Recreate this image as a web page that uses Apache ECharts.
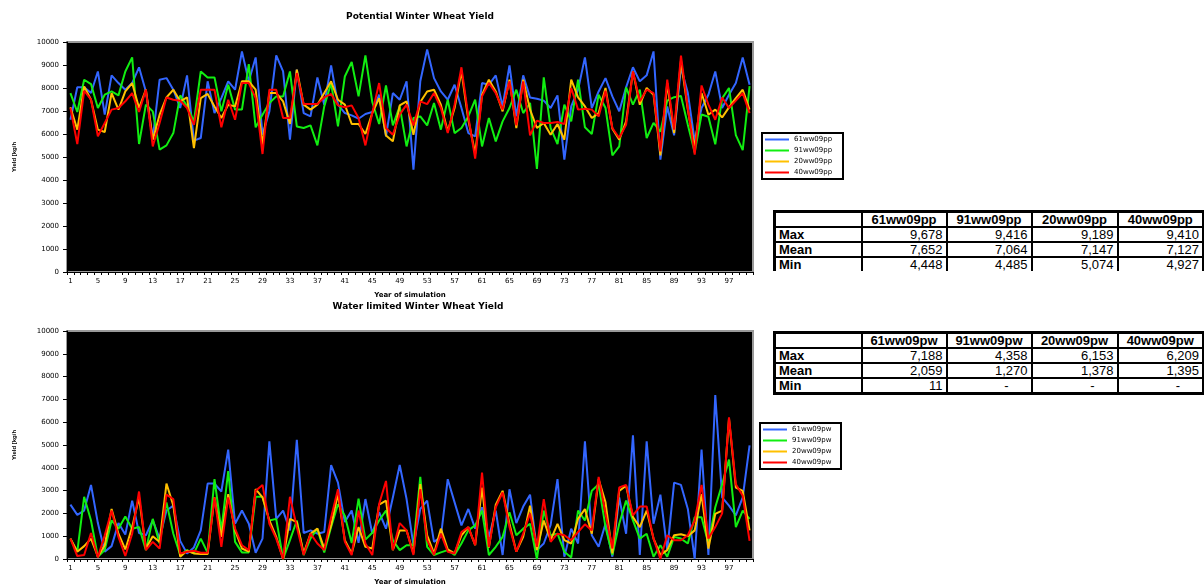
<!DOCTYPE html>
<html>
<head>
<meta charset="utf-8">
<script src="https://cdn.jsdelivr.net/npm/echarts@6/dist/echarts.min.js"></script>
<style>
body { margin: 0; background: #fff; }
#main { position: absolute; left: 0; top: 0; width: 1204px; height: 587px; }
table.stats {
    position: absolute; border-collapse: collapse; table-layout: fixed;
    font-family: "Liberation Sans", Arial, sans-serif; font-size: 13px; color: #000;
    border: 3px solid #000; background: #fff;
}
table.stats td { border: 2px solid #000; padding: 0 3px; height: 13px; line-height: 13px; text-align: right; white-space: nowrap; overflow: hidden; color: #000; }
table.stats tr.head td { font-weight: bold; text-align: center; }
table.stats td.lab { font-weight: bold; text-align: left; }
table.stats td.dash { padding-right: 22px; }
table.open { border-bottom: none; }
table.open tr:last-child td { border-bottom: none; }
</style>
</head>
<body>
<div id="main"></div>
<script>
// 年份 1..100
var years = [];
for (var k = 1; k <= 100; k++) years.push(String(k));

var namesPP = ['61ww09pp', '91ww09pp', '20ww09pp', '40ww09pp'];
var namesPW = ['61ww09pw', '91ww09pw', '20ww09pw', '40ww09pw'];
var colors = ['#3366ff', '#11ee11', '#ffc000', '#ff0000'];

// Potential yield (kg/ha)
var pp61 = [6620,8030,8030,7780,8720,6840,8550,8215,7925,8215,8900,7850,5800,8360,8430,7925,7130,8550,5710,5825,
    8290,6910,7560,8290,7925,9590,8290,9330,5970,6985,9420,8720,5750,8800,6910,6765,8460,7275,8985,7275,
    6910,6810,6665,6870,6955,7710,5900,7780,7490,8290,4448,8290,9678,8430,7850,7490,8140,7130,6040,5900,
    8215,8140,8550,7200,8985,6765,8550,7590,7535,7450,7130,7680,4885,7200,7925,9330,7130,7850,8430,7635,
    6985,8030,8900,8290,8550,9590,4885,7200,5940,8900,7780,5700,7130,7710,8720,7130,7710,8215,9330,8140];
var pp91 = [7780,6955,8360,8170,7130,7710,7850,7680,8720,9330,5565,7275,6985,5320,5505,6040,7680,7200,6550,8720,
    8460,8460,6985,8140,7060,7060,9040,6290,6840,7350,7635,7635,8720,6330,6260,6375,5505,7200,8215,6330,
    8500,9130,7635,9416,7390,6435,8110,6375,7200,5460,6695,6765,6375,7350,6190,7490,6040,6260,6765,7490,
    5460,6695,5680,6550,7130,7925,6910,7350,4485,8460,6260,5565,7275,6550,8360,6290,6000,7710,7130,5070,
    5460,8030,7275,7925,5825,6480,6100,7450,7600,7650,6400,5200,6850,6750,5550,7550,8000,5950,5300,8080];
var pp20 = [7160,6190,8070,7490,6190,6085,7780,7060,7850,8215,7130,7925,5750,6840,7590,7925,7420,7590,5390,7560,
    7740,7200,6695,7275,7200,8290,8290,7925,5535,7780,7780,7420,6435,8800,7275,7060,7275,7780,8290,7490,
    7275,6435,6435,6000,6910,7560,5940,5680,7245,7420,5970,7390,7850,7925,7275,6115,7130,8720,6620,5150,
    7710,8360,7850,6985,8360,6260,8360,7060,6260,6480,5970,6435,5750,8360,7590,7200,6695,6910,8000,6230,
    5750,6550,8720,7275,8000,7710,5074,8215,6040,9189,7060,5390,7780,6840,7060,6720,7160,7560,7925,7060];
var pp40 = [7130,5565,7880,7490,5900,6480,7060,7130,7420,7780,6955,7925,5460,6480,7590,7490,7450,7130,6400,7925,
    7925,7925,6290,7490,6620,8215,8215,7560,5130,7925,7925,6695,6695,8650,7300,7300,7300,7590,7740,7245,
    7160,7245,6695,5505,6910,8215,6260,5970,6840,7275,6375,7420,7300,7780,7130,6040,7275,8900,6765,4927,
    7635,8215,7780,7060,8290,6375,8290,5940,6580,6480,6480,6520,6435,8000,7060,7100,7060,6765,7880,6260,
    5825,6400,8720,7420,7925,7780,5245,8360,6190,9410,7130,5100,8110,7275,6620,7590,7130,7450,7780,6910];

// Water limited yield (kg/ha)
var pw61 = [2385,1935,2125,3250,1575,320,565,1575,1070,2560,1140,1040,1690,895,2125,2340,795,245,505,1255,
    3310,3310,2960,4800,1545,2125,1545,275,895,5160,1760,2125,1255,5230,1140,1255,1110,1185,4120,3350,
    1620,2125,710,2630,1110,2050,1330,2700,4120,2630,605,2195,2560,750,970,3500,2485,1475,2195,1330,
    2270,970,2125,175,3060,1575,2300,2820,390,680,1500,3500,100,1330,680,5160,1040,535,1545,100,
    2700,1110,5420,175,5160,1545,2820,390,3350,3250,2195,11,4800,175,7188,2700,2340,1910,2700,4985];
var pw91 = [895,320,2730,1690,100,390,1690,1330,1865,1330,1400,390,1760,680,2485,1110,175,390,245,895,
    275,3500,1255,3860,750,290,290,2730,2730,1690,1760,0,825,1690,175,900,1330,290,1400,2400,
    1900,700,2650,850,1150,1690,2125,825,390,605,605,3600,535,175,290,390,175,680,1255,1475,
    2125,175,535,970,2050,1040,1330,1545,0,2125,1040,1110,320,70,2125,1690,2990,3280,1400,175,
    1545,2560,1690,895,1110,100,605,100,970,895,680,1835,1835,680,2270,3280,4358,1400,2125,1760];
var pw20 = [895,320,565,895,100,605,2195,1110,420,1400,2700,460,1000,750,3310,2340,100,360,245,215,
    215,2700,970,2845,1255,460,320,3060,2700,1690,970,0,1760,1620,245,1110,1330,460,1475,2845,
    825,245,1400,535,460,2385,2560,390,1255,1255,245,3280,1040,245,1330,420,245,1040,1400,605,
    3135,505,2385,2990,1545,320,970,2340,390,1690,825,1545,825,680,1760,2195,1110,3500,2485,245,
    2990,3210,1835,1400,2125,895,175,390,1040,1085,1000,1255,2845,460,1980,2125,6153,3135,2990,1255];
var pw40 = [895,130,175,1140,70,1040,2125,970,130,1110,2960,390,750,460,2820,2630,245,320,360,275,
    275,2700,535,2700,1330,605,390,2990,3250,1545,895,0,2730,1400,175,1110,680,390,1835,3060,
    750,175,2125,680,175,2410,3425,390,1575,1255,175,3060,825,175,1110,320,245,1185,1400,605,
    3790,535,2270,2920,1400,320,1110,2000,535,2630,750,1110,1040,825,1185,1520,1255,3600,1980,460,
    3135,3250,1910,2300,2300,895,0,1040,825,825,1040,1690,3250,895,1400,2000,6209,3280,2775,795];

// 统计表
var statRows = ['Max', 'Mean', 'Min'];
var statPP = [[9678, 9416, 9189, 9410], [7652, 7064, 7147, 7127], [4448, 4485, 5074, 4927]];
var statPW = [[7188, 4358, 6153, 6209], [2059, 1270, 1378, 1395], [11, 0, 0, 0]];

var font = '"Liberation Sans", Arial, sans-serif';
var wide = '"DejaVu Sans", sans-serif';

function makeTable(cols, rows, left, top, open) {
    var html = '<table class="stats' + (open ? ' open' : '') + '" style="left:' + left + 'px;top:' + top + 'px;width:429px">';
    html += '<colgroup><col style="width:87px"><col style="width:85px"><col style="width:85px"><col style="width:86px"><col style="width:86px"></colgroup>';
    html += '<tr class="head"><td></td>';
    for (var c of cols) html += '<td>' + c + '</td>';
    html += '</tr>';
    rows.forEach(function (r, i) {
        html += '<tr><td class="lab">' + statRows[i] + '</td>';
        for (var v of r) {
            if (v === 0) html += '<td class="dash">-</td>';
            else html += '<td>' + v.toLocaleString('en-US') + '</td>';
        }
        html += '</tr>';
    });
    html += '</table>';
    document.body.insertAdjacentHTML('beforeend', html);
}
makeTable(namesPP, statPP, 773, 210, true);
makeTable(namesPW, statPW, 773, 331, false);

function xAxisOf(idx) {
    return {
        gridIndex: idx, type: 'category', data: years, boundaryGap: true,
        axisLine: { lineStyle: { color: '#000', width: 1 } },
        axisTick: { show: true, interval: 0, length: 3, lineStyle: { color: '#000' } },
        axisLabel: { interval: 3, fontSize: 7, color: '#000', margin: 6, fontFamily: wide },
        name: 'Year of simulation', nameLocation: 'middle', nameGap: 20,
        nameTextStyle: { fontSize: 7, fontWeight: 'bold', color: '#000', fontFamily: wide },
        splitLine: { show: false }
    };
}
function yAxisOf(idx) {
    return {
        gridIndex: idx, type: 'value', min: 0, max: 10000, interval: 1000,
        axisLine: { show: true, lineStyle: { color: '#000', width: 1 } },
        axisTick: { show: true, length: 4, lineStyle: { color: '#000' } },
        axisLabel: { fontSize: 7, color: '#000', margin: 8, fontFamily: wide,
            formatter: function (v) { return String(v); } },
        splitLine: { show: false },
        name: 'Yield [kg/h', nameLocation: 'middle', nameGap: 50,
        nameTextStyle: { fontSize: 6, fontWeight: 'bold', color: '#000', fontFamily: font }
    };
}
function lineOf(name, data, idx, color) {
    return {
        name: name, type: 'line', xAxisIndex: idx, yAxisIndex: idx, data: data,
        symbol: 'none', lineStyle: { width: 2, color: color }, itemStyle: { color: color }
    };
}
function legendOf(names, left, top) {
    return {
        data: names, left: left, top: top, orient: 'vertical', icon: 'rect',
        itemWidth: 24, itemHeight: 2, itemGap: 2, padding: [2, 2, 2, 3],
        borderColor: '#000', borderWidth: 2, backgroundColor: '#fff', selectedMode: false,
        textStyle: { fontSize: 7, color: '#000', width: 47, lineHeight: 9, fontFamily: wide }
    };
}

var myChart = echarts.init(document.getElementById('main'));
var option = {
    animation: false,
    graphic: [
        { type: 'text', x: 420, y: 17, style: { text: 'Potential Winter Wheat Yield', font: 'bold 9px ' + wide, fill: '#000', textAlign: 'center', textVerticalAlign: 'middle' } },
        { type: 'text', x: 418, y: 307, style: { text: 'Water limited Winter Wheat Yield', font: 'bold 9px ' + wide, fill: '#000', textAlign: 'center', textVerticalAlign: 'middle' } }
    ],
    grid: [
        { left: 67, top: 42, width: 686, height: 230, show: true, backgroundColor: '#000', borderColor: '#999', borderWidth: 2 },
        { left: 67, top: 331, width: 686, height: 231, show: true, backgroundColor: '#000', borderColor: '#999', borderWidth: 2 }
    ],
    xAxis: [xAxisOf(0), xAxisOf(1)],
    yAxis: [yAxisOf(0), yAxisOf(1)],
    legend: [legendOf(namesPP, 762, 133), legendOf(namesPW, 760, 423)],
    series: [
        lineOf(namesPP[0], pp61, 0, colors[0]),
        lineOf(namesPP[1], pp91, 0, colors[1]),
        lineOf(namesPP[2], pp20, 0, colors[2]),
        lineOf(namesPP[3], pp40, 0, colors[3]),
        lineOf(namesPW[0], pw61, 1, colors[0]),
        lineOf(namesPW[1], pw91, 1, colors[1]),
        lineOf(namesPW[2], pw20, 1, colors[2]),
        lineOf(namesPW[3], pw40, 1, colors[3])
    ]
};
myChart.setOption(option, true);
</script>
</body>
</html>
